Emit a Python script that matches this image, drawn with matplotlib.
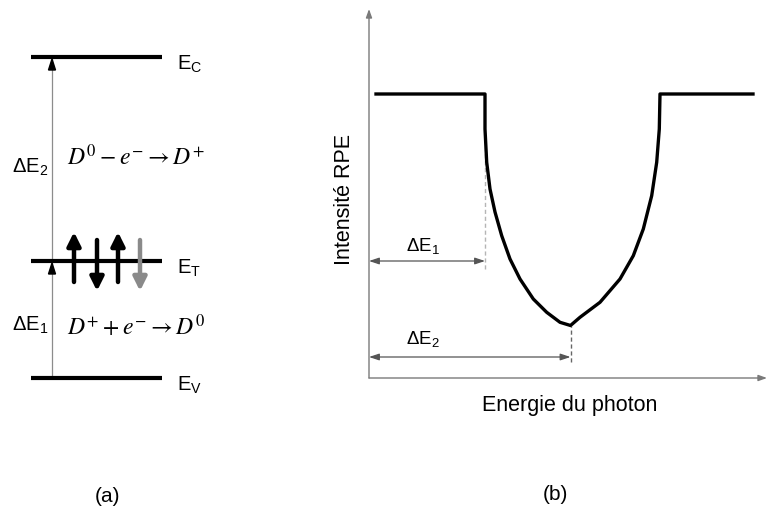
import matplotlib
matplotlib.use("Agg")
import matplotlib.pyplot as plt
import numpy as np

plt.rcParams['font.family'] = ['Liberation Sans', 'DejaVu Sans']
plt.rcParams['mathtext.fontset'] = 'custom'
plt.rcParams['mathtext.rm'] = 'Liberation Sans'
plt.rcParams['mathtext.it'] = 'Liberation Sans:italic'
plt.rcParams['mathtext.bf'] = 'Liberation Sans:bold'

# ---- Panel (a): energy levels (arbitrary units) ----
level_names = ["E$_\\mathrm{V}$", "E$_\\mathrm{T}$", "E$_\\mathrm{C}$"]
level_energy = [0.0, 1.17, 3.21]
spin_x = [0.74, 0.97, 1.18, 1.40]
spin_dir = ["up", "down", "up", "down"]
spin_color = ["black", "black", "black", "#8a8a8a"]
eq_lower = r"$D^{+}+e^{-}\rightarrow D^{0}$"
eq_upper = r"$D^{0}-e^{-}\rightarrow D^{+}$"

# ---- Panel (b): EPR intensity vs photon energy (arbitrary units) ----
energy = [0.07, 1.16, 1.16, 1.177, 1.21, 1.26, 1.327, 1.41, 1.51, 1.643, 1.777, 1.91, 2.015,
          2.11, 2.31, 2.51, 2.643, 2.743, 2.827, 2.877, 2.903, 2.91, 3.84]
intensity = [2.84, 2.84, 2.49, 2.157, 1.89, 1.66, 1.423, 1.19, 0.99, 0.79, 0.657, 0.557, 0.525,
             0.607, 0.757, 0.99, 1.223, 1.49, 1.823, 2.157, 2.49, 2.84, 2.84]
dE1 = 1.16
dE2 = 2.015

W, H = 767, 510
fig = plt.figure(figsize=(W / 100, H / 100), dpi=100)

# Panel (a) axes : whole figure, 1 unit = 100 px, origin at E_V line
axa = fig.add_axes([0, 0, 1, 1])
axa.set_xlim(0, 7.67)
axa.set_ylim(-1.31, 3.79)
axa.axis('off')

x0, x1 = 0.31, 1.62
for name, e in zip(level_names, level_energy):
    axa.plot([x0, x1], [e, e], color='black', lw=3.0, solid_capstyle='butt', zorder=3)
    axa.text(1.77, e - 0.06, name, fontsize=14.5, ha='left', va='center')

# thin vertical transition line with arrowheads at E_T and E_C
xv = 0.52
axa.plot([xv, xv], [level_energy[0], level_energy[2]], color='#8c8c8c', lw=0.9, zorder=1)
for e in level_energy[1:]:
    axa.add_patch(plt.Polygon([[xv - 0.035, e - 0.13], [xv + 0.035, e - 0.13], [xv, e - 0.02]],
                              closed=True, color='black', zorder=2))

axa.text(0.30, 2.12, "ΔE$_\\mathrm{2}$", fontsize=14.5, ha='center', va='center')
axa.text(0.30, 0.54, "ΔE$_\\mathrm{1}$", fontsize=14.5, ha='center', va='center')

axa.text(0.67, 2.22, eq_upper, fontsize=17, ha='left', va='center', math_fontfamily='stix')
axa.text(0.67, 0.52, eq_lower, fontsize=17, ha='left', va='center', math_fontfamily='stix')

for sx, d, c in zip(spin_x, spin_dir, spin_color):
    if d == "up":
        ys, ye = 0.96, 1.46
    else:
        ys, ye = 1.38, 0.87
    axa.annotate("", xy=(sx, ye), xytext=(sx, ys),
                 arrowprops=dict(arrowstyle='-|>,head_length=0.8,head_width=0.4',
                                 color=c, lw=3.2, shrinkA=0, shrinkB=0), zorder=4)

axa.text(1.07, -1.18, "(a)", fontsize=15, ha='center', va='center')
axa.text(5.55, -1.16, "(b)", fontsize=15, ha='center', va='center')

# Panel (b) axes
left, bottom = 369 / W, (H - 379) / H
axb = fig.add_axes([left, bottom, (W - 369) / W, (379 - 10) / H])
axb.set_xlim(0, 3.98)
axb.set_ylim(0, 3.69)
axb.axis('off')

# axes with arrows
axb.annotate("", xy=(0, 3.69), xytext=(0, 0),
             arrowprops=dict(arrowstyle='-|>,head_length=0.5,head_width=0.18',
                             color='#7a7a7a', lw=1.0, shrinkA=0, shrinkB=0))
axb.annotate("", xy=(3.98, 0), xytext=(0, 0),
             arrowprops=dict(arrowstyle='-|>,head_length=0.5,head_width=0.18',
                             color='#7a7a7a', lw=1.0, shrinkA=0, shrinkB=0))

axb.plot(energy, intensity, color='black', lw=2.4, solid_joinstyle='round', zorder=3)

# dashed markers
axb.plot([dE1, dE1], [1.09, 2.46], color='#b5b5b5', lw=1.0, ls=(0, (3, 2)), zorder=2)
axb.plot([dE2, dE2], [0.16, 0.52], color='#666666', lw=1.0, ls=(0, (3, 2)), zorder=2)

for val, yy, lab, ly in [(dE1, 1.17, "ΔE$_\\mathrm{1}$", 1.33), (dE2, 0.21, "ΔE$_\\mathrm{2}$", 0.40)]:
    axb.annotate("", xy=(val, yy), xytext=(0, yy),
                 arrowprops=dict(arrowstyle='<|-|>,head_length=0.6,head_width=0.2',
                                 color='#555555', lw=0.9, shrinkA=0, shrinkB=0))
    axb.text(0.54, ly, lab, fontsize=13.5, ha='center', va='center')

fig.text(345 / W, 1 - 200 / H, "Intensité RPE", rotation=90, fontsize=15.5,
         ha='center', va='center')
fig.text(570 / W, 1 - 406 / H, "Energie du photon", fontsize=15.5, ha='center', va='center')

fig.savefig("out.png", dpi=100)
